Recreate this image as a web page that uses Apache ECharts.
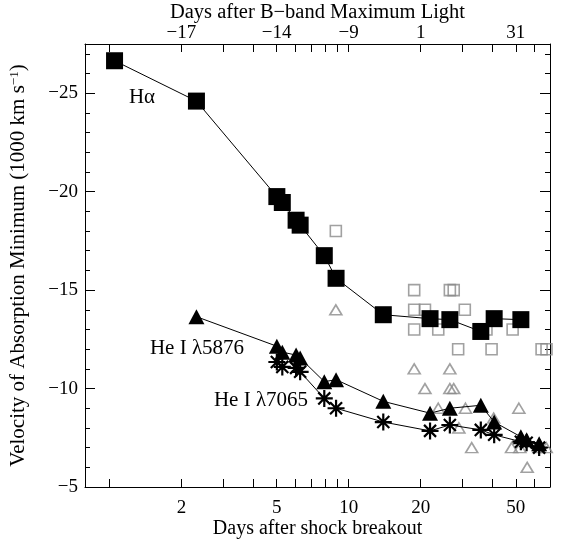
<!DOCTYPE html>
<html><head><meta charset="utf-8">
<script src="https://cdn.jsdelivr.net/npm/echarts@6/dist/echarts.min.js"></script>
<style>html,body{margin:0;padding:0;background:#fff}#c{width:561px;height:542px}</style>
</head><body><div id="c"></div>
<script>
// ---- axis ranges & ticks ----
const xMin = 0.79, xMax = 69.5;
const yMin = -27.5, yMax = -5;
const xTickValues = [1, 2, 3, 4, 5, 6, 7, 8, 9, 10, 20, 30, 40, 50, 60];
const xLabelValues = [2, 5, 10, 20, 50];
const topLabelTexts = ['\u221217', '\u221214', '\u22129', '1', '31'];

// ---- H alpha (black squares) ----
const haDays = [1.05, 2.31, 5.01, 5.28, 6.03, 6.27, 7.91, 8.86, 13.96, 21.9, 26.5, 35.7, 40.6, 52.5];
const haVel  = [-26.65, -24.6, -19.75, -19.45, -18.55, -18.3, -16.75, -15.6, -13.75, -13.55, -13.5, -12.9, -13.55, -13.5];

// ---- He I 5876 (black triangles) ----
const he5876Days = [2.31, 5.01, 5.28, 6.03, 6.27, 7.91, 8.86, 13.96, 21.9, 26.5, 35.7, 40.6, 52.5, 55.5, 62.6];
const he5876Vel  = [-13.65, -12.15, -11.85, -11.7, -11.55, -10.35, -10.45, -9.35, -8.75, -9.0, -9.15, -8.3, -7.55, -7.4, -7.2];

// ---- He I 7065 (asterisks) ----
const he7065Days = [5.01, 5.28, 6.03, 6.27, 7.91, 8.86, 13.96, 21.9, 26.5, 35.7, 40.6, 52.5, 55.5, 62.6];
const he7065Vel  = [-11.35, -11.1, -11.05, -10.85, -9.5, -9.0, -8.3, -7.85, -8.15, -7.9, -7.65, -7.3, -7.25, -7.0];

// ---- comparison data (gray open squares: H alpha) ----
const graySqDays = [8.84, 18.8, 18.8, 20.85, 18.8, 23.7, 26.5, 27.5, 30.6, 28.7, 37.7, 39.6, 48.5, 64.1, 67.2];
const graySqVel  = [-18, -15, -14, -14, -13, -13, -15, -15, -14, -12, -13, -12, -13, -12, -12];

// ---- comparison data (gray open triangles: He I) ----
const grayTriDays = [8.84, 18.8, 26.5, 20.85, 26.5, 27.5, 23.7, 30.8, 51.5, 28.9, 40.4, 32.7, 48.0, 52.0, 55.8, 62.5, 67.0];
const grayTriVel  = [-14, -11, -11, -10, -10, -10, -9, -9, -9, -8, -8.5, -7, -7, -7, -6, -7, -7];

const FONT = 'Liberation Serif';
const GRAY = '#8a8a8a';
const pairs = (xs, ys) => xs.map((x, i) => [x, ys[i]]);
const fmtNeg = v => (v < 0 ? '\u2212' + Math.abs(v) : String(v));
const ASTERISK = 'path://M0,-10L0,10M-10,0L10,0M-7.07,-7.07L7.07,7.07M-7.07,7.07L7.07,-7.07';

const chart = echarts.init(document.getElementById('c'), null, {renderer: 'canvas'});

function makeX(extra) {
  return Object.assign({
    type: 'log', logBase: 10, min: xMin, max: xMax,
    axisLine: {show: true, onZero: false, lineStyle: {color: '#000', width: 1}},
    axisTick: {show: true, inside: true, length: 8, customValues: xTickValues.slice(), lineStyle: {color: '#000', width: 1}},
    minorTick: {show: false},
    splitLine: {show: false},
    nameLocation: 'middle',
    nameMoveOverlap: false
  }, extra);
}
function makeY(extra) {
  return Object.assign({
    type: 'value', inverse: true, min: yMin, max: yMax, splitNumber: 5,
    axisLine: {show: true, onZero: false, lineStyle: {color: '#000', width: 1}},
    axisTick: {show: true, inside: true, length: 10, lineStyle: {color: '#000', width: 1}},
    minorTick: {show: true, splitNumber: 5, length: 5, lineStyle: {color: '#000', width: 1}},
    splitLine: {show: false}, minorSplitLine: {show: false},
    nameMoveOverlap: false
  }, extra);
}

chart.setOption({
  animation: false,
  backgroundColor: '#fff',
  grid: {left: 85, right: 11, top: 44, bottom: 55, containLabel: false, outerBoundsMode: 'none'},
  xAxis: [
    makeX({
      position: 'bottom', name: 'Days after shock breakout', nameGap: 32,
      nameTextStyle: {fontFamily: FONT, fontSize: 20, color: '#000'},
      axisLabel: {customValues: xLabelValues.slice(), margin: 12, fontFamily: FONT, fontSize: 19, color: '#000',
        formatter: v => String(Math.round(v))}
    }),
    makeX({
      position: 'top', name: 'Days after B\u2212band Maximum Light', nameGap: 21,
      nameTextStyle: {fontFamily: FONT, fontSize: 20.5, color: '#000'},
      axisLabel: {customValues: xLabelValues.slice(), margin: 1, fontFamily: FONT, fontSize: 19, color: '#000',
        formatter: v => {
          const i = xLabelValues.findIndex(t => Math.abs(t - v) < 1e-6 * t);
          return i >= 0 ? topLabelTexts[i] : '';
        }}
    })
  ],
  yAxis: [
    makeY({
      position: 'left',
      name: 'Velocity of Absorption Minimum (1000 km s{sup|\u22121})',
      nameLocation: 'middle', nameGap: 56, nameRotate: 90,
      nameTextStyle: {fontFamily: FONT, fontSize: 21, color: '#000',
        rich: {sup: {fontFamily: FONT, fontSize: 13, color: '#000', verticalAlign: 'top'}}},
      axisLabel: {margin: 7, fontFamily: FONT, fontSize: 19, color: '#000',
        formatter: v => (Math.abs(v % 5) < 1e-9 ? fmtNeg(v) : '')}
    }),
    makeY({position: 'right', axisLabel: {show: false}})
  ],
  series: [
    {type: 'scatter', name: 'gray squares', xAxisIndex: 0, yAxisIndex: 0, silent: true, z: 1,
      data: pairs(graySqDays, graySqVel), symbol: 'rect', symbolSize: 11,
      itemStyle: {color: 'rgba(0,0,0,0)', borderColor: GRAY, borderWidth: 1.6}},
    {type: 'scatter', name: 'gray triangles', xAxisIndex: 0, yAxisIndex: 0, silent: true, z: 1,
      data: pairs(grayTriDays, grayTriVel), symbol: 'triangle', symbolSize: [12, 10],
      itemStyle: {color: 'rgba(0,0,0,0)', borderColor: GRAY, borderWidth: 1.6}},
    {type: 'line', name: 'Halpha', xAxisIndex: 0, yAxisIndex: 0, silent: true, z: 3,
      data: pairs(haDays, haVel), symbol: 'rect', symbolSize: 17, showSymbol: true, showAllSymbol: true,
      itemStyle: {color: '#000'}, lineStyle: {color: '#000', width: 1}},
    {type: 'line', name: 'He5876', xAxisIndex: 0, yAxisIndex: 0, silent: true, z: 3,
      data: pairs(he5876Days, he5876Vel), symbol: 'triangle', symbolSize: [16, 15], showSymbol: true, showAllSymbol: true,
      itemStyle: {color: '#000'}, lineStyle: {color: '#000', width: 1}},
    {type: 'line', name: 'He7065', xAxisIndex: 0, yAxisIndex: 0, silent: true, z: 4,
      data: pairs(he7065Days, he7065Vel), symbol: ASTERISK, symbolSize: 17, showSymbol: true, showAllSymbol: true,
      itemStyle: {color: '#000', borderColor: '#000', borderWidth: 2.2}, lineStyle: {color: '#000', width: 1}}
  ],
  graphic: [
    {type: 'text', x: 142, y: 97, style: {text: 'H\u03b1', font: '21px "Liberation Serif"', fill: '#000', align: 'center', verticalAlign: 'middle'}},
    {type: 'text', x: 197, y: 348, style: {text: 'He I \u03bb5876', font: '21px "Liberation Serif"', fill: '#000', align: 'center', verticalAlign: 'middle'}},
    {type: 'text', x: 261, y: 400, style: {text: 'He I \u03bb7065', font: '21px "Liberation Serif"', fill: '#000', align: 'center', verticalAlign: 'middle'}}
  ]
});
</script>
</body></html>
